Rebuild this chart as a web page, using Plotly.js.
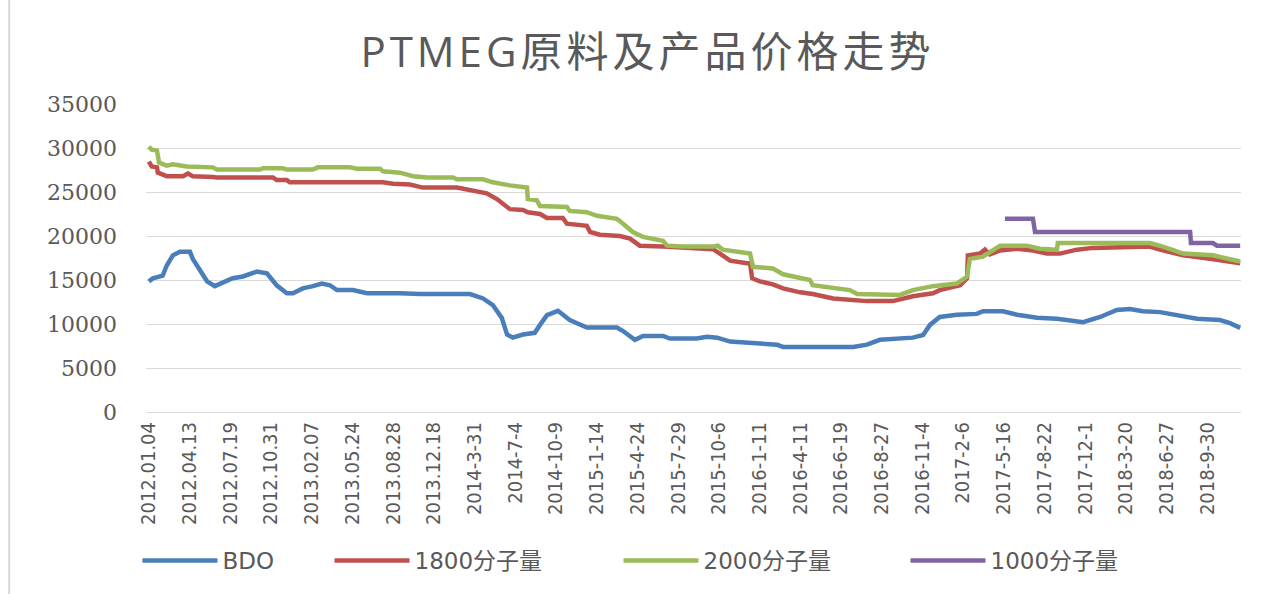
<!DOCTYPE html>
<html>
<head>
<meta charset="utf-8">
<script src="https://cdn.plot.ly/plotly-3.0.1.min.js"></script>
<style>
html,body{margin:0;padding:0;background:#fff;}
#chart{width:1272px;height:594px;}
#chart .gtitle{letter-spacing:4px;}
</style>
</head>
<body>
<div id="chart"></div>
<script>
// Category tick labels (x positions are in units of these labels)
const tickLabels = ["2012.01.04","2012.04.13","2012.07.19","2012.10.31","2013.02.07","2013.05.24","2013.08.28","2013.12.18","2014-3-31","2014-7-4","2014-10-9","2015-1-14","2015-4-24","2015-7-29","2015-10-6","2016-1-11","2016-4-11","2016-6-19","2016-8-27","2016-11-4","2017-2-6","2017-5-16","2017-8-22","2017-12-1","2018-3-20","2018-6-27","2018-9-30"];
const tickPos = tickLabels.map((_, i) => i);

// BDO
const bdoX = [0,0.10,0.34,0.44,0.59,0.76,1.01,1.08,1.43,1.62,2.06,2.31,2.65,2.90,3.14,3.39,3.54,3.78,4.03,4.25,4.45,4.62,5.01,5.36,6.17,6.66,7.89,8.21,8.45,8.67,8.80,8.94,9.19,9.48,9.61,9.78,10.05,10.34,10.76,11.50,11.65,11.94,12.14,12.63,12.80,13.46,13.71,13.96,14.28,15.01,15.43,15.58,17.30,17.64,17.96,18.77,19.02,19.19,19.43,19.85,20.34,20.49,20.98,21.33,21.82,22.31,22.95,23.37,23.78,24.10,24.42,24.84,25.26,25.75,26.31,26.56,26.81];
const bdoY = [14850,15190,15500,16650,17800,18200,18200,17400,14850,14300,15200,15400,15950,15750,14400,13500,13500,14050,14300,14600,14400,13850,13850,13500,13500,13400,13400,12900,12150,10700,8800,8450,8800,9000,9900,11000,11500,10450,9600,9600,9200,8200,8650,8650,8350,8350,8550,8450,8000,7800,7650,7400,7400,7650,8200,8450,8750,9900,10800,11050,11150,11450,11450,11050,10700,10600,10200,10800,11600,11700,11450,11350,11050,10600,10450,10100,9550];

// 1800分子量
const m1800X = [0,0.07,0.20,0.22,0.44,0.84,0.96,1.08,1.57,1.67,3.05,3.14,3.39,3.46,5.75,6.00,6.41,6.73,7.57,7.81,8.30,8.55,8.87,9.19,9.31,9.61,9.78,10.17,10.27,10.76,10.84,11.08,11.57,11.82,12.06,12.63,12.87,13.86,14.03,14.28,14.69,14.77,14.82,15.01,15.33,15.58,16.00,16.31,16.81,17.64,18.28,18.77,19.26,19.43,19.93,20.10,20.12,20.42,20.54,20.66,20.91,21.33,21.72,22.06,22.38,22.80,23.19,24.59,24.84,25.41,26.07,26.81];
const m1800Y = [28450,27900,27800,27200,26800,26800,27100,26800,26700,26650,26650,26350,26350,26100,26100,25950,25850,25500,25500,25300,24850,24200,23050,22950,22700,22500,22050,22050,21400,21150,20450,20150,20000,19700,18900,18800,18750,18500,18000,17200,16900,16900,15200,14850,14500,14050,13600,13400,12900,12600,12600,13150,13500,13850,14400,15200,17800,18000,18450,17900,18350,18550,18350,18000,18000,18450,18650,18800,18450,17800,17400,16900];

// 2000分子量
const m2000X = [0,0.07,0.20,0.25,0.44,0.59,0.93,1.57,1.67,2.73,2.80,3.29,3.39,4.03,4.15,4.94,5.11,5.68,5.75,6.17,6.49,6.83,7.47,7.57,8.21,8.45,8.87,9.29,9.31,9.53,9.61,10.27,10.34,10.76,11.01,11.25,11.50,11.65,11.89,12.14,12.63,12.73,13.12,13.86,13.98,14.10,14.77,14.84,15.33,15.58,16.00,16.24,16.31,16.73,17.22,17.40,18.45,18.77,19.26,19.85,20.10,20.17,20.49,20.91,21.57,21.89,22.31,22.33,24.59,24.91,25.41,26.14,26.81];
const m2000Y = [30150,29800,29700,28350,28000,28150,27900,27800,27550,27550,27700,27700,27550,27550,27800,27800,27650,27650,27350,27200,26800,26650,26650,26450,26450,26100,25750,25500,24200,24050,23400,23300,22850,22700,22300,22150,21950,21400,20450,19900,19450,18900,18800,18800,18900,18450,18000,16500,16300,15650,15200,15000,14400,14150,13850,13400,13300,13850,14300,14600,15400,17400,17650,18900,18900,18550,18450,19200,19200,18800,18000,17800,17100];

// 1000分子量
const m1000X = [21.03,21.72,21.77,25.58,25.60,26.14,26.24,26.81];
const m1000Y = [21950,21950,20450,20450,19200,19200,18900,18900];

const seriesNames = ["BDO","1800分子量","2000分子量","1000分子量"];
const colors = ["#4a7ebb","#c0504d","#9bbb59","#8064a2"];

const lw = 4.5;
const traces = [
  {x: bdoX, y: bdoY, name: seriesNames[0], line:{color:colors[0], width:lw}, legend:'legend'},
  {x: m1800X, y: m1800Y, name: seriesNames[1], line:{color:colors[1], width:lw}, legend:'legend2'},
  {x: m2000X, y: m2000Y, name: seriesNames[2], line:{color:colors[2], width:lw}, legend:'legend3'},
  {x: m1000X, y: m1000Y, name: seriesNames[3], line:{color:colors[3], width:lw}, legend:'legend4'}
].map(t => Object.assign({type:'scatter', mode:'lines', hoverinfo:'skip'}, t));

function legendAt(xp) {
  return {
    orientation:'h', x:xp, xanchor:'left', y:-0.482, yanchor:'middle',
    itemwidth: 75,
    font:{family:'"DejaVu Sans","Noto Sans CJK SC",sans-serif', size:23, color:'#595959'},
    bgcolor:'rgba(0,0,0,0)'
  };
}

const layout = {
  width: 1272, height: 594,
  margin: {l:146, r:31, t:104, b:179},
  paper_bgcolor:'#ffffff', plot_bgcolor:'#ffffff',
  showlegend: true,
  title: {
    text: 'PTMEG原料及产品价格走势',
    x: 0.509, xref:'container', xanchor:'center',
    y: 0.912, yref:'container', yanchor:'middle',
    font: {family:'"Open Sans","Noto Sans CJK SC",sans-serif', size:42, color:'#595959'}
  },
  xaxis: {
    range:[-0.07, 26.83],
    tickmode:'array', tickvals: tickPos, ticktext: tickLabels,
    tickangle: -90,
    showgrid:false, zeroline:false, showline:false,
    ticks:'', ticklen:0, ticklabelstandoff: 5,
    tickfont: {family:'"Liberation Sans Narrow","DejaVu Sans Condensed",sans-serif', size:20, color:'#595959'},
    fixedrange:true
  },
  yaxis: {
    range:[0,35000], tickmode:'array',
    tickvals:[0,5000,10000,15000,20000,25000,30000,35000],
    ticktext:['0','5000','10000','15000','20000','25000','30000','35000'],
    showgrid:true, gridcolor:'#d9d9d9', gridwidth:1,
    zeroline:true, zerolinecolor:'#d9d9d9', zerolinewidth:1,
    showline:false, ticks:'',
    ticklabelstandoff: 28,
    tickfont:{family:'"DejaVu Serif",serif', size:22, color:'#595959'},
    fixedrange:true
  },
  legend: legendAt(-0.0078),
  legend2: legendAt(0.1676),
  legend3: legendAt(0.4315),
  legend4: legendAt(0.6936),
  shapes: [
    {type:'line', xref:'paper', yref:'paper', x0:-0.125, x1:-0.125, y0:-0.6, y1:1.35, line:{color:'#d9d9d9', width:2}}
  ]
};

Plotly.newPlot('chart', traces, layout, {staticPlot:true, displayModeBar:false});
</script>
</body>
</html>
